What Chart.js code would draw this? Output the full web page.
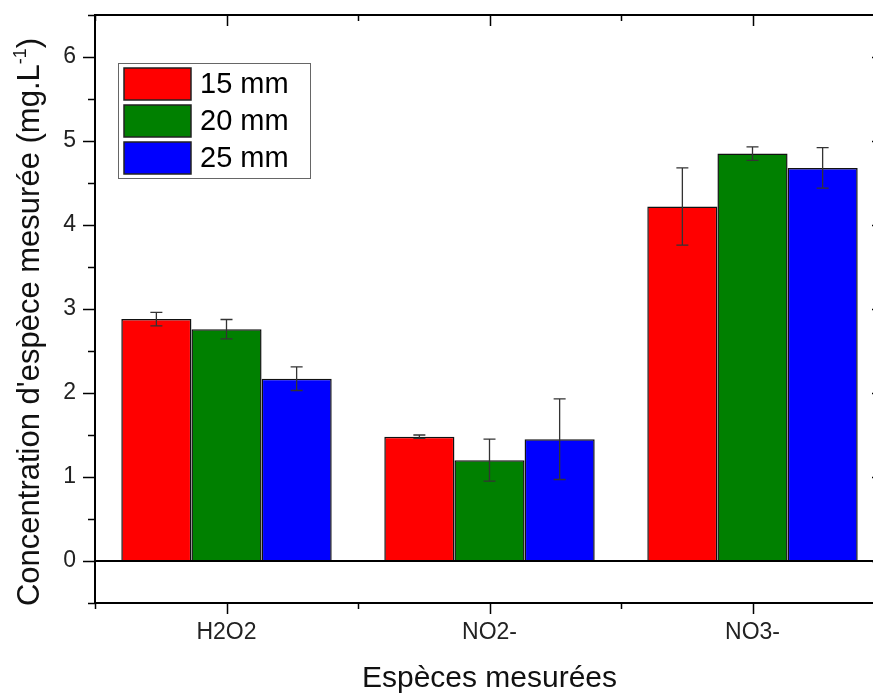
<!DOCTYPE html>
<html>
<head>
<meta charset="utf-8">
<script src="https://cdn.jsdelivr.net/npm/chart.js@4/dist/chart.umd.min.js"></script>
<style>
  html, body { margin: 0; padding: 0; background: #fff; overflow: hidden; }
  #wrap { width: 890px; height: 693px; }
</style>
</head>
<body>
<div id="wrap"><canvas id="chart" width="890" height="693"></canvas></div>
<script>
// Données
const especes = ['H2O2', 'NO2-', 'NO3-'];
const series = ['15 mm', '20 mm', '25 mm'];
const couleurs = ['#ff0000', '#008000', '#0000ff'];

const val15 = [2.88, 1.48, 4.22];
const val20 = [2.76, 1.20, 4.85];
const val25 = [2.17, 1.45, 4.68];

const err15 = [0.08, 0.02, 0.46];
const err20 = [0.115, 0.25, 0.08];
const err25 = [0.14, 0.48, 0.24];

const yTicksMin = -0.5;
const yTicksMax = 6.5;

const FONT = '"Liberation Sans", Arial, sans-serif';

// Barres d'erreur, cadre, ticks, légende, titres
const decorPlugin = {
  id: 'decor',
  afterDatasetsDraw(chart) {
    const ctx = chart.ctx;
    const y = chart.scales.y;
    ctx.save();
    ctx.strokeStyle = '#333';
    ctx.lineWidth = 1.3;
    chart.data.datasets.forEach((ds, di) => {
      const meta = chart.getDatasetMeta(di);
      meta.data.forEach((bar, i) => {
        const v = ds.data[i], e = ds.errors[i];
        const yt = y.getPixelForValue(v + e);
        const yb = y.getPixelForValue(v - e);
        ctx.beginPath();
        ctx.moveTo(bar.x, yt); ctx.lineTo(bar.x, yb);
        ctx.moveTo(bar.x - 6, yt); ctx.lineTo(bar.x + 6, yt);
        ctx.moveTo(bar.x - 6, yb); ctx.lineTo(bar.x + 6, yb);
        ctx.stroke();
      });
    });
    ctx.restore();
  },
  afterDraw(chart) {
    const ctx = chart.ctx;
    const a = chart.chartArea;
    const x = chart.scales.x;
    const y = chart.scales.y;
    ctx.save();
    ctx.strokeStyle = '#000';
    ctx.lineWidth = 2;

    // ligne du zéro
    const y0 = y.getPixelForValue(0);
    ctx.beginPath();
    ctx.moveTo(a.left, y0); ctx.lineTo(a.right, y0);
    ctx.stroke();

    // cadre
    ctx.beginPath();
    ctx.rect(a.left, a.top, a.right - a.left, a.bottom - a.top);
    ctx.stroke();

    // ticks y (gauche vers l'extérieur, droite vers l'intérieur)
    ctx.lineWidth = 1.5;
    for (let v = yTicksMin; v <= yTicksMax + 1e-9; v += 0.5) {
      const py = Math.round(y.getPixelForValue(v)) + 0.5;
      const len = Number.isInteger(v) ? 12 : 7;
      ctx.beginPath();
      ctx.moveTo(a.left - len, py); ctx.lineTo(a.left, py);
      ctx.moveTo(a.right - len, py); ctx.lineTo(a.right, py);
      ctx.stroke();
    }
    // ticks x (bas vers l'extérieur, haut vers l'intérieur)
    for (let i = -0.5; i <= especes.length - 0.5 + 1e-9; i += 0.5) {
      const px = Math.round(x.getPixelForValue(i)) + 0.5;
      const len = Number.isInteger(i) ? 11 : 6;
      ctx.beginPath();
      ctx.moveTo(px, a.bottom); ctx.lineTo(px, a.bottom + len);
      ctx.moveTo(px, a.top); ctx.lineTo(px, a.top + len);
      ctx.stroke();
    }

    // légende
    const lx = 118, ly = 63, lw = 192, lh = 115;
    ctx.fillStyle = '#fff';
    ctx.fillRect(lx, ly, lw, lh);
    ctx.strokeStyle = '#666';
    ctx.lineWidth = 1;
    ctx.strokeRect(lx + 0.5, ly + 0.5, lw, lh);
    ctx.font = '29px ' + FONT;
    ctx.textBaseline = 'middle';
    ctx.textAlign = 'left';
    chart.data.datasets.forEach((ds, i) => {
      const sy = 68 + i * 37;
      ctx.fillStyle = ds.backgroundColor;
      ctx.fillRect(124, sy, 67, 32);
      ctx.strokeStyle = '#222';
      ctx.lineWidth = 1.5;
      ctx.strokeRect(124, sy, 67, 32);
      ctx.fillStyle = '#000';
      ctx.fillText(ds.label, 200, sy + 17);
    });

    // titre axe x
    ctx.font = '30px ' + FONT;
    ctx.textAlign = 'center';
    ctx.textBaseline = 'alphabetic';
    ctx.fillStyle = '#111';
    ctx.fillText('Espèces mesurées', (a.left + a.right) / 2, 687);

    // titre axe y avec exposant
    const main = "Concentration d'espèce mesurée (mg.L";
    const sup = '-1';
    const end = ')';
    ctx.font = '31px ' + FONT;
    const wMain = ctx.measureText(main).width;
    const wEnd = ctx.measureText(end).width;
    ctx.font = '18px ' + FONT;
    const wSup = ctx.measureText(sup).width;
    const total = wMain + wSup + wEnd;
    ctx.translate(39, 322);
    ctx.rotate(-Math.PI / 2);
    ctx.textAlign = 'left';
    let cx = -total / 2;
    ctx.font = '31px ' + FONT;
    ctx.fillText(main, cx, 0);
    cx += wMain;
    ctx.font = '18px ' + FONT;
    ctx.fillText(sup, cx, -13);
    cx += wSup;
    ctx.font = '31px ' + FONT;
    ctx.fillText(end, cx, 0);
    ctx.restore();
  }
};

const ctx = document.getElementById('chart').getContext('2d');
const chart = new Chart(ctx, {
  type: 'bar',
  data: {
    labels: especes,
    datasets: [
      { label: series[0], data: val15, errors: err15, backgroundColor: couleurs[0] },
      { label: series[1], data: val20, errors: err20, backgroundColor: couleurs[1] },
      { label: series[2], data: val25, errors: err25, backgroundColor: couleurs[2] }
    ].map(ds => Object.assign(ds, {
      borderColor: '#111',
      borderWidth: 1.5,
      categoryPercentage: 0.8,
      barPercentage: 1.0
    }))
  },
  options: {
    responsive: false,
    animation: false,
    layout: { padding: { top: 15, right: 6, left: 0, bottom: 0 } },
    plugins: {
      legend: { display: false },
      tooltip: { enabled: false }
    },
    scales: {
      x: {
        offset: true,
        grid: { display: false, drawTicks: false },
        border: { display: false },
        ticks: { font: { family: FONT, size: 23 }, color: '#222', padding: 16 },
        afterFit(scale) {
          scale.height = 90;
          scale.paddingLeft = 0;
          scale.paddingRight = 0;
        }
      },
      y: {
        min: yTicksMin,
        max: yTicksMax,
        grid: { display: false, drawTicks: false },
        border: { display: false },
        ticks: {
          stepSize: 0.5,
          autoSkip: false,
          font: { family: FONT, size: 23 },
          color: '#222',
          padding: 19,
          callback: v => Number.isInteger(v) ? String(v) : ''
        },
        afterFit(scale) {
          scale.width = 95;
          scale.paddingTop = 0;
          scale.paddingBottom = 0;
        }
      }
    }
  },
  plugins: [decorPlugin]
});
</script>
</body>
</html>
